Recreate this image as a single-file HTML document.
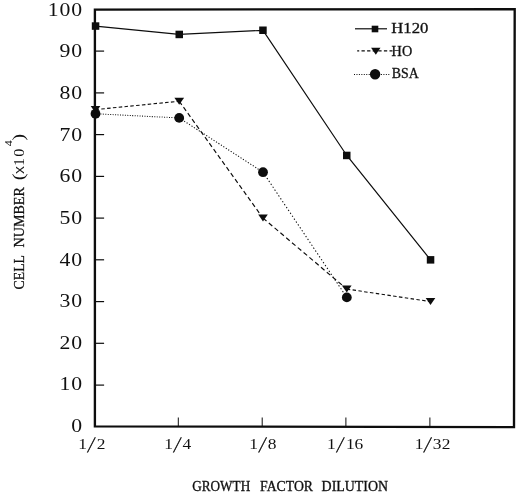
<!DOCTYPE html>
<html lang="en"><head><meta charset="utf-8"><title>Cell number vs growth factor dilution</title>
<style>
html,body{margin:0;padding:0;background:#fff;}
body{width:520px;height:494px;overflow:hidden;}
svg{display:block;}
.num{font-family:"Liberation Serif",serif;fill:#111;}
.sans{font-family:"Liberation Sans",sans-serif;fill:#222;}
.lab{font-family:"Liberation Serif",serif;fill:#111;}
</style></head><body>
<svg width="520" height="494" viewBox="0 0 520 494">
<rect x="0" y="0" width="520" height="494" fill="#fff"/>
<polygon points="94.9,9.6 514.7,9.2 514.0,427.1 94.9,426.4" fill="none" stroke="#0d0d0d" stroke-width="2.35" stroke-linejoin="miter"/>
<g stroke="#0d0d0d" stroke-width="1.2">
<line x1="94.9" y1="385.1" x2="104.1" y2="385.1"/>
<line x1="94.9" y1="343.3" x2="104.1" y2="343.3"/>
<line x1="94.9" y1="301.6" x2="104.1" y2="301.6"/>
<line x1="94.9" y1="259.8" x2="104.1" y2="259.8"/>
<line x1="94.9" y1="218.1" x2="104.1" y2="218.1"/>
<line x1="94.9" y1="176.4" x2="104.1" y2="176.4"/>
<line x1="94.9" y1="134.6" x2="104.1" y2="134.6"/>
<line x1="94.9" y1="92.9" x2="104.1" y2="92.9"/>
<line x1="94.9" y1="51.1" x2="104.1" y2="51.1"/>
<line x1="178.3" y1="426.8" x2="178.3" y2="417.5" stroke-width="1"/>
<line x1="262.2" y1="426.8" x2="262.2" y2="417.5" stroke-width="1"/>
<line x1="345.9" y1="426.8" x2="345.9" y2="417.5" stroke-width="1"/>
<line x1="429.9" y1="426.8" x2="429.9" y2="417.5" stroke-width="1"/>
</g>
<g class="num" font-size="18.1" text-anchor="end">
<text transform="translate(82.9,432.0) scale(1.2,1)" x="0" y="0" letter-spacing="0.7">0</text>
<text transform="translate(82.9,390.4) scale(1.2,1)" x="0" y="0" letter-spacing="0.7">10</text>
<text transform="translate(82.9,348.8) scale(1.2,1)" x="0" y="0" letter-spacing="0.7">20</text>
<text transform="translate(82.9,307.1) scale(1.2,1)" x="0" y="0" letter-spacing="0.7">30</text>
<text transform="translate(82.9,265.5) scale(1.2,1)" x="0" y="0" letter-spacing="0.7">40</text>
<text transform="translate(82.9,223.9) scale(1.2,1)" x="0" y="0" letter-spacing="0.7">50</text>
<text transform="translate(82.9,182.3) scale(1.2,1)" x="0" y="0" letter-spacing="0.7">60</text>
<text transform="translate(82.9,140.7) scale(1.2,1)" x="0" y="0" letter-spacing="0.7">70</text>
<text transform="translate(82.9,99.0) scale(1.2,1)" x="0" y="0" letter-spacing="0.7">80</text>
<text transform="translate(82.9,57.4) scale(1.2,1)" x="0" y="0" letter-spacing="0.7">90</text>
<text transform="translate(82.9,15.8) scale(1.2,1)" x="0" y="0" letter-spacing="0.7">100</text>
</g>
<g class="num" text-anchor="middle">
<text transform="translate(82.5,449.1) scale(1.2,1)" font-size="14.5">1</text>
<text transform="translate(89.4,452.4) skewX(-15.5) scale(1.05,1.5)" font-size="14.5" stroke="#111" stroke-width="0.45">/</text>
<text transform="translate(101.1,449.1) scale(1.2,1)" font-size="14.5">2</text>
<text transform="translate(168.5,449.1) scale(1.2,1)" font-size="14.5">1</text>
<text transform="translate(175.3,452.4) skewX(-15.5) scale(1.05,1.5)" font-size="14.5" stroke="#111" stroke-width="0.45">/</text>
<text transform="translate(186.9,449.1) scale(1.2,1)" font-size="14.5">4</text>
<text transform="translate(253.6,449.1) scale(1.2,1)" font-size="14.5">1</text>
<text transform="translate(260.5,452.4) skewX(-15.5) scale(1.05,1.5)" font-size="14.5" stroke="#111" stroke-width="0.45">/</text>
<text transform="translate(272.1,449.1) scale(1.2,1)" font-size="14.5">8</text>
<text transform="translate(331.4,449.1) scale(1.2,1)" font-size="14.5">1</text>
<text transform="translate(338.4,452.4) skewX(-15.5) scale(1.05,1.5)" font-size="14.5" stroke="#111" stroke-width="0.45">/</text>
<text transform="translate(350.3,449.1) scale(1.2,1)" font-size="14.5">1</text>
<text transform="translate(358.9,449.1) scale(1.2,1)" font-size="14.5">6</text>
<text transform="translate(419,449.1) scale(1.2,1)" font-size="14.5">1</text>
<text transform="translate(425.6,452.4) skewX(-15.5) scale(1.05,1.5)" font-size="14.5" stroke="#111" stroke-width="0.45">/</text>
<text transform="translate(437.2,449.1) scale(1.2,1)" font-size="14.5">3</text>
<text transform="translate(446.1,449.1) scale(1.2,1)" font-size="14.5">2</text>
</g>
<polyline points="95.5,26.1 179.2,34.4 263.0,30.3 346.8,155.5 430.5,259.8" fill="none" stroke="#0d0d0d" stroke-width="1.2"/>
<path d="M95.5 109.6L99.0 109.2M101.3 109.0L104.8 108.7M107.1 108.4L110.6 108.1M112.9 107.8L116.4 107.5M118.7 107.3L122.2 106.9M124.5 106.7L128.0 106.3M130.3 106.1L133.8 105.8M136.1 105.5L139.6 105.2M141.9 105.0L145.4 104.6M147.7 104.4L151.2 104.0M153.5 103.8L157.0 103.4M159.3 103.2L162.8 102.9M165.1 102.6L168.6 102.3M170.9 102.1L174.4 101.7M176.7 101.5L179.2 101.2M179.2 101.2L181.8 104.8M183.5 107.2L186.1 110.8M187.8 113.2L190.4 116.8M192.1 119.2L194.7 122.8M196.4 125.2L199.0 128.8M200.7 131.2L203.3 134.8M205.0 137.2L207.6 140.8M209.3 143.2L211.9 146.8M213.6 149.2L216.2 152.8M217.9 155.2L220.5 158.8M222.2 161.2L224.8 164.8M226.5 167.2L229.1 170.8M230.8 173.2L233.4 176.8M235.1 179.2L237.7 182.8M239.4 185.2L242.0 188.8M243.7 191.2L246.3 194.8M248.0 197.2L250.6 200.8M252.3 203.2L254.9 206.8M256.6 209.2L259.2 212.8M260.9 215.2L263.0 218.1M263.0 218.1L266.5 221.0M268.8 223.0L272.3 226.0M274.6 227.9L278.1 230.9M280.4 232.8L283.9 235.8M286.2 237.8L289.7 240.7M292.0 242.7L295.5 245.6M297.8 247.6L301.3 250.5M303.6 252.5L307.1 255.4M309.4 257.4L312.9 260.4M315.2 262.3L318.7 265.3M321.0 267.2L324.5 270.2M326.8 272.2L330.3 275.1M332.6 277.1L336.1 280.0M338.4 282.0L341.9 284.9M344.2 286.9L346.8 289.1M346.8 289.1L350.2 289.6M352.6 289.9L356.0 290.4M358.4 290.8L361.8 291.3M364.1 291.7L367.6 292.2M369.9 292.5L373.4 293.0M375.8 293.4L379.2 293.9M381.6 294.3L385.0 294.8M387.4 295.1L390.8 295.6M393.1 296.0L396.6 296.5M398.9 296.9L402.4 297.4M404.8 297.7L408.2 298.3M410.6 298.6L414.0 299.1M416.4 299.5L419.8 300.0M422.1 300.3L425.6 300.9M427.9 301.2L430.5 301.6" fill="none" stroke="#0d0d0d" stroke-width="1.15"/>
<path d="M95.5 113.8L96.5 113.8M98.0 113.9L98.9 113.9M100.4 114.0L101.4 114.0M102.8 114.1L103.8 114.2M105.3 114.2L106.3 114.3M107.8 114.4L108.7 114.4M110.2 114.5L111.2 114.5M112.7 114.6L113.6 114.7M115.1 114.7L116.1 114.8M117.5 114.8L118.5 114.9M120.0 115.0L121.0 115.0M122.5 115.1L123.4 115.1M124.9 115.2L125.9 115.3M127.3 115.3L128.3 115.4M129.8 115.5L130.8 115.5M132.2 115.6L133.2 115.6M134.7 115.7L135.7 115.8M137.2 115.8L138.1 115.9M139.6 115.9L140.6 116.0M142.1 116.1L143.0 116.1M144.5 116.2L145.5 116.2M146.9 116.3L147.9 116.4M149.4 116.4L150.4 116.5M151.8 116.6L152.8 116.6M154.3 116.7L155.3 116.7M156.8 116.8L157.7 116.9M159.2 116.9L160.2 117.0M161.7 117.0L162.6 117.1M164.1 117.2L165.1 117.2M166.6 117.3L167.5 117.3M169.0 117.4L170.0 117.5M171.4 117.5L172.4 117.6M173.9 117.7L174.9 117.7M176.3 117.8L177.3 117.8M178.8 117.9L179.2 117.9M179.2 117.9L180.2 118.6M181.7 119.5L182.7 120.1M184.2 121.1L185.1 121.7M186.6 122.7L187.6 123.3M189.1 124.3L190.0 124.9M191.5 125.9L192.5 126.5M193.9 127.4L194.9 128.1M196.4 129.0L197.4 129.7M198.8 130.6L199.8 131.3M201.3 132.2L202.3 132.8M203.8 133.8L204.7 134.4M206.2 135.4L207.2 136.0M208.7 137.0L209.6 137.6M211.1 138.6L212.1 139.2M213.6 140.1L214.5 140.8M216.0 141.7L217.0 142.4M218.4 143.3L219.4 144.0M220.9 144.9L221.9 145.5M223.3 146.5L224.3 147.1M225.8 148.1L226.8 148.7M228.2 149.7L229.2 150.3M230.7 151.3L231.7 151.9M233.2 152.8L234.1 153.5M235.6 154.4L236.6 155.1M238.1 156.0L239.0 156.7M240.5 157.6L241.5 158.2M242.9 159.2L243.9 159.8M245.4 160.8L246.4 161.4M247.8 162.4L248.8 163.0M250.3 164.0L251.3 164.6M252.8 165.5L253.7 166.2M255.2 167.1L256.2 167.8M257.6 168.7L258.6 169.4M260.1 170.3L261.1 170.9M262.6 171.9L263.0 172.2M263.0 172.2L263.8 173.3M264.9 175.1L265.7 176.2M266.9 178.0L267.7 179.1M268.8 180.9L269.6 182.0M270.8 183.8L271.5 184.9M272.7 186.7L273.5 187.8M274.6 189.6L275.4 190.7M276.6 192.5L277.4 193.6M278.5 195.4L279.3 196.5M280.5 198.3L281.2 199.4M282.4 201.2L283.2 202.3M284.3 204.1L285.1 205.2M286.3 207.0L287.1 208.1M288.2 209.9L289.0 211.0M290.2 212.8L290.9 213.9M292.1 215.7L292.9 216.8M294.0 218.6L294.8 219.7M296.0 221.5L296.7 222.6M297.9 224.4L298.7 225.5M299.9 227.3L300.6 228.4M301.8 230.2L302.6 231.3M303.7 233.1L304.5 234.2M305.7 236.0L306.4 237.1M307.6 238.9L308.4 240.0M309.6 241.8L310.3 242.9M311.5 244.7L312.3 245.8M313.4 247.6L314.2 248.7M315.4 250.5L316.1 251.6M317.3 253.4L318.1 254.5M319.2 256.3L320.0 257.4M321.2 259.2L322.0 260.3M323.1 262.1L323.9 263.2M325.1 265.0L325.8 266.1M327.0 267.9L327.8 269.0M328.9 270.8L329.7 271.9M330.9 273.7L331.7 274.8M332.8 276.6L333.6 277.7M334.8 279.5L335.5 280.6M336.7 282.4L337.5 283.5M338.6 285.3L339.4 286.4M340.6 288.2L341.4 289.3M342.5 291.1L343.3 292.2M344.5 294.0L345.2 295.1M346.4 296.9L346.8 297.4" fill="none" stroke="#0d0d0d" stroke-width="1.05"/>
<rect x="91.8" y="22.3" width="7.5" height="7.5" fill="#0d0d0d"/>
<rect x="175.5" y="30.7" width="7.5" height="7.5" fill="#0d0d0d"/>
<rect x="259.2" y="26.5" width="7.5" height="7.5" fill="#0d0d0d"/>
<rect x="343.0" y="151.7" width="7.5" height="7.5" fill="#0d0d0d"/>
<rect x="426.8" y="256.1" width="7.5" height="7.5" fill="#0d0d0d"/>
<polygon points="90.7,106.1 100.3,106.1 95.5,113.1" fill="#0d0d0d"/>
<polygon points="174.4,97.7 184.1,97.7 179.2,104.7" fill="#0d0d0d"/>
<polygon points="258.2,214.6 267.8,214.6 263.0,221.6" fill="#0d0d0d"/>
<polygon points="341.9,285.6 351.6,285.6 346.8,292.6" fill="#0d0d0d"/>
<polygon points="425.7,298.1 435.3,298.1 430.5,305.1" fill="#0d0d0d"/>
<circle cx="95.5" cy="113.8" r="4.9" fill="#0d0d0d"/>
<circle cx="179.2" cy="117.9" r="4.9" fill="#0d0d0d"/>
<circle cx="263.0" cy="172.2" r="4.9" fill="#0d0d0d"/>
<circle cx="346.8" cy="297.4" r="4.9" fill="#0d0d0d"/>
<line x1="355" y1="28.8" x2="387" y2="28.8" stroke="#0d0d0d" stroke-width="1.2"/>
<rect x="371.7" y="25.7" width="6.6" height="6.6" fill="#0d0d0d"/>
<line x1="357.2" y1="50.8" x2="392.5" y2="50.8" stroke="#0d0d0d" stroke-width="1.2" stroke-dasharray="3.3 2.3" stroke-dashoffset="1.3"/>
<polygon points="371.1,47.8 380.5,47.8 375.8,54.8" fill="#0d0d0d"/>
<line x1="354" y1="74.4" x2="390.5" y2="74.4" stroke="#0d0d0d" stroke-width="1.05" stroke-dasharray="1 1.45"/>
<circle cx="375.1" cy="74.2" r="5.2" fill="#0d0d0d"/>
<g class="lab" font-size="14.2" stroke="#111" stroke-width="0.3">
<text x="391.3" y="32.8" textLength="37" lengthAdjust="spacingAndGlyphs">H120</text>
<text x="391.6" y="55.6" textLength="20.6" lengthAdjust="spacingAndGlyphs">HO</text>
<text x="391.8" y="78.4" textLength="27" lengthAdjust="spacingAndGlyphs">BSA</text>
</g>
<g class="lab" font-size="15.3" stroke="#111" stroke-width="0.35">
<text x="192.2" y="491.2" textLength="58" lengthAdjust="spacingAndGlyphs">GROWTH</text>
<text x="260" y="491.2" textLength="53" lengthAdjust="spacingAndGlyphs">FACTOR</text>
<text x="321.6" y="491.2" textLength="66.5" lengthAdjust="spacingAndGlyphs">DILUTION</text>
</g>
<g transform="translate(23.7,289.1) rotate(-90)">
<g class="lab" font-size="15" stroke="#111" stroke-width="0.3">
<text x="-0.3" y="0" textLength="34.4" lengthAdjust="spacingAndGlyphs">CELL</text>
<text x="41.7" y="0" textLength="60.2" lengthAdjust="spacingAndGlyphs">NUMBER</text>
</g>
<g class="num" font-size="14.3" text-anchor="middle">
<text transform="translate(112.2,0.6) scale(1.45,1.12)">(</text>
<text class="sans" stroke="none" transform="translate(119,0) scale(1.1,1)">x</text>
<text transform="translate(127,0) scale(1.1,1)">1</text>
<text transform="translate(136.4,0) scale(1.15,1)">0</text>
<text transform="translate(145.8,-11.5) scale(1.1,1)" font-size="11">4</text>
<text transform="translate(151.7,0.6) scale(1.45,1.12)">)</text>
</g>
</g>
</svg>
</body></html>
